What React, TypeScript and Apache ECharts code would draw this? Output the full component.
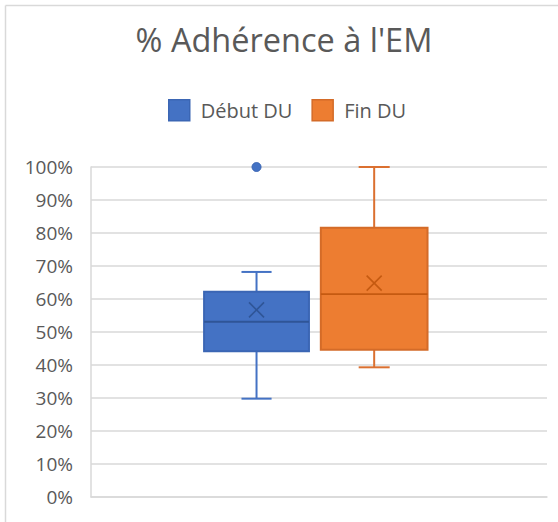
import React, { useEffect, useRef } from "react";
import * as echarts from "echarts";

const categories = [""];
const seriesNames = ["Début DU", "Fin DU"];
// [categoryIndex, min, q1, median, q3, max, mean]
const debutStats = [[0, 0.298, 0.442, 0.531, 0.622, 0.682, 0.567]];
const finStats = [[0, 0.393, 0.446, 0.615, 0.816, 1.0, 0.648]];
// [categoryIndex, value]
const debutOutliers = [[0, 1.0]];
const finOutliers: number[][] = [];
const yTicks = [0, 0.1, 0.2, 0.3, 0.4, 0.5, 0.6, 0.7, 0.8, 0.9, 1.0];

const FONT = "'Open Sans', sans-serif";
const TXT = "#595959";

type Look = { offset: number; width: number; cap: number; fill: string; border: string; dark: string; whisker: string };

const looks: Look[] = [
  { offset: -0.137, width: 0.23, cap: 0.066, fill: "#4472C4", border: "#3B66B4", dark: "#2F5597", whisker: "#4472C4" },
  { offset: 0.121, width: 0.234, cap: 0.068, fill: "#ED7D31", border: "#D46B28", dark: "#C55A11", whisker: "#DB7030" },
];

function boxRenderer(look: Look) {
  return (params: any, api: any) => {
    const band = api.size([1, 0])[0];
    const cat = api.value(0);
    const cx = api.coord([cat, 0])[0] + look.offset * band;
    const y = (i: number) => api.coord([cat, api.value(i)])[1];
    const w = look.width * band;
    const cw = look.cap * band;
    const yMin = y(1), yQ1 = y(2), yMed = y(3), yQ3 = y(4), yMax = y(5), yMean = y(6);
    const xs = 7.5;
    const lineStyle = (c: string, lw = 1.5) => ({ stroke: c, lineWidth: lw, fill: null });
    return {
      type: "group",
      children: [
        { type: "line", shape: { x1: cx, y1: yQ3, x2: cx, y2: yMax }, style: lineStyle(look.whisker, 2) },
        { type: "line", shape: { x1: cx, y1: yQ1, x2: cx, y2: yMin }, style: lineStyle(look.whisker, 2) },
        { type: "line", shape: { x1: cx - cw / 2, y1: yMax, x2: cx + cw / 2, y2: yMax }, style: lineStyle(look.whisker, 2) },
        { type: "line", shape: { x1: cx - cw / 2, y1: yMin, x2: cx + cw / 2, y2: yMin }, style: lineStyle(look.whisker, 2) },
        {
          type: "rect",
          shape: { x: cx - w / 2, y: yQ3, width: w, height: yQ1 - yQ3 },
          style: { fill: look.fill, stroke: look.border, lineWidth: 2 },
        },
        { type: "line", shape: { x1: cx - w / 2, y1: yMed, x2: cx + w / 2, y2: yMed }, style: lineStyle(look.dark, 1.8) },
        { type: "line", shape: { x1: cx - xs, y1: yMean - xs, x2: cx + xs, y2: yMean + xs }, style: lineStyle(look.dark, 1.6) },
        { type: "line", shape: { x1: cx - xs, y1: yMean + xs, x2: cx + xs, y2: yMean - xs }, style: lineStyle(look.dark, 1.6) },
      ],
    };
  };
}

function outlierRenderer(look: Look) {
  return (params: any, api: any) => {
    const band = api.size([1, 0])[0];
    const cat = api.value(0);
    const p = api.coord([cat, api.value(1)]);
    return {
      type: "circle",
      shape: { cx: p[0] + look.offset * band, cy: p[1], r: 4.5 },
      style: { fill: look.fill, stroke: look.border, lineWidth: 1 },
    };
  };
}

export default function App() {
  const ref = useRef<HTMLDivElement>(null);
  useEffect(() => {
    if (!ref.current) return;
    const chart = echarts.init(ref.current, undefined, { renderer: "svg" });
    chart.setOption({
      animation: false,
      backgroundColor: "#ffffff",
      title: {
        text: "% Adhérence à l'EM",
        left: "center",
        top: 18,
        textStyle: { fontFamily: FONT, fontSize: 32.5, fontWeight: "normal", color: TXT },
      },
      legend: {
        top: 94,
        left: 163,
        itemWidth: 21,
        itemHeight: 21,
        itemGap: 19,
        icon: "rect",
        textStyle: { fontFamily: FONT, fontSize: 20, color: TXT, padding: [0, 0, 0, 6] },
        data: seriesNames.map((n, i) => ({
          name: n,
          itemStyle: { color: looks[i].fill, borderColor: looks[i].border, borderWidth: 1.5 },
        })),
      },
      grid: { left: 91, right: 21, top: 167, bottom: 25 },
      xAxis: {
        type: "category",
        data: categories,
        axisLine: { show: true, lineStyle: { color: "#D9D9D9", width: 1.5 } },
        axisTick: { show: false },
        axisLabel: { show: false },
        splitLine: { show: false },
      },
      yAxis: {
        type: "value",
        min: yTicks[0],
        max: yTicks[yTicks.length - 1],
        interval: 0.1,
        axisLine: { show: true, lineStyle: { color: "#D9D9D9", width: 1.5 } },
        axisTick: { show: false },
        axisLabel: {
          margin: 18,
          fontFamily: FONT,
          fontSize: 19,
          color: TXT,
          formatter: (v: number) => `${Math.round(v * 100)}%`,
        },
        splitLine: { show: true, lineStyle: { color: "#D9D9D9", width: 1.5 } },
      },
      graphic: [
        { type: "line", shape: { x1: 5.5, y1: 5.5, x2: 568, y2: 5.5 }, style: { stroke: "#D9D9D9", lineWidth: 1.5 } },
        { type: "line", shape: { x1: 5.5, y1: 5.5, x2: 5.5, y2: 522 }, style: { stroke: "#D9D9D9", lineWidth: 1.5 } },
      ],
      series: [
        { name: seriesNames[0], type: "custom", renderItem: boxRenderer(looks[0]), data: debutStats, itemStyle: { color: looks[0].fill }, encode: { x: 0, y: [1, 2, 3, 4, 5, 6] } },
        { name: seriesNames[1], type: "custom", renderItem: boxRenderer(looks[1]), data: finStats, itemStyle: { color: looks[1].fill }, encode: { x: 0, y: [1, 2, 3, 4, 5, 6] } },
        { name: seriesNames[0], type: "custom", renderItem: outlierRenderer(looks[0]), data: debutOutliers, itemStyle: { color: looks[0].fill }, encode: { x: 0, y: 1 } },
        { name: seriesNames[1], type: "custom", renderItem: outlierRenderer(looks[1]), data: finOutliers, itemStyle: { color: looks[1].fill }, encode: { x: 0, y: 1 } },
      ],
    });
    return () => chart.dispose();
  }, []);
  return (
    <div style={{ position: "absolute", left: 0, top: 0, width: 558, height: 522, overflow: "hidden" }}>
      <div ref={ref} style={{ width: 568, height: 522 }} />
    </div>
  );
}
